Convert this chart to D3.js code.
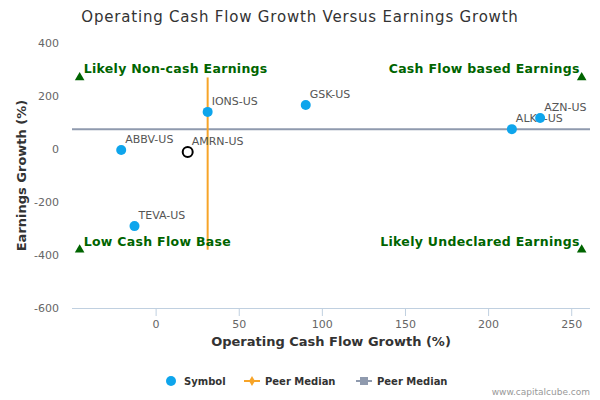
<!DOCTYPE html>
<html><head><meta charset="utf-8">
<script src="https://cdn.jsdelivr.net/npm/d3@7"></script>
<style>body{margin:0;background:#fff;font-family:"DejaVu Sans",sans-serif}</style>
</head><body><svg id="c" width="600" height="400"></svg>
<script>
const symbols = ["ABBV-US","AMRN-US","IONS-US","GSK-US","ALKS-US","AZN-US","TEVA-US"];
const cashFlowGrowth = [-21, 19, 31, 90, 214, 231, -13];
const earningsGrowth = [-4, -11, 140, 166, 75, 117, -291];
const highlighted = ["AMRN-US"];
const peerMedianX = 31, peerMedianY = 75;
const xTicks = [0,50,100,150,200,250];
const yTicks = [400,200,0,-200,-400,-600];
const quadrantLabels = ["Likely Non-cash Earnings","Cash Flow based Earnings","Low Cash Flow Base","Likely Undeclared Earnings"];
const markerX = [-46, 256], markerY = [270, -380];

const svg = d3.select("#c");
const L=72,R=590,T=43,B=308;
const x = d3.scaleLinear().domain([-50.6,261]).range([L,R]);
const y = d3.scaleLinear().domain([400,-600]).range([T,B]);

svg.append("text").attr("x",300).attr("y",22).attr("text-anchor","middle").attr("font-size",15).attr("letter-spacing",0.8).attr("fill","#333").text("Operating Cash Flow Growth Versus Earnings Growth");

svg.append("line").attr("x1",L).attr("x2",R).attr("y1",B+0.5).attr("y2",B+0.5).attr("stroke","#c0d0e0");
xTicks.forEach(t=>{
  svg.append("line").attr("x1",x(t)).attr("x2",x(t)).attr("y1",B).attr("y2",B+8).attr("stroke","#c0d0e0");
  svg.append("text").attr("x",x(t)).attr("y",B+20).attr("text-anchor","middle").attr("font-size",11).attr("fill","#666").text(t);
});
yTicks.forEach(t=>{
  svg.append("text").attr("x",L-13).attr("y",y(t)+4).attr("text-anchor","end").attr("font-size",11).attr("fill","#666").text(t);
});
svg.append("text").attr("x",(L+R)/2).attr("y",346).attr("text-anchor","middle").attr("font-size",13).attr("font-weight","bold").attr("fill","#333").text("Operating Cash Flow Growth (%)");
svg.append("text").attr("transform",`translate(26,${(T+B)/2}) rotate(-90)`).attr("text-anchor","middle").attr("font-size",13).attr("font-weight","bold").attr("fill","#333").text("Earnings Growth (%)");

svg.append("line").attr("x1",L).attr("x2",R).attr("y1",y(peerMedianY)).attr("y2",y(peerMedianY)).attr("stroke","#8f9aae").attr("stroke-width",2);
svg.append("line").attr("x1",x(peerMedianX)).attr("x2",x(peerMedianX)).attr("y1",y(markerY[0])).attr("y2",y(markerY[1])).attr("stroke","#f7a428").attr("stroke-width",2);

const tri = d3.symbol().type(d3.symbolTriangle).size(40);
const corners=[[0,0],[1,0],[0,1],[1,1]];
corners.forEach(([i,j],k)=>{
  svg.append("path").attr("d",tri).attr("transform",`translate(${x(markerX[i])},${y(markerY[j])})`).attr("fill","#006400");
  const lx = i===0 ? x(markerX[0])+4 : x(markerX[1])-2;
  svg.append("text").attr("x",lx).attr("y",y(markerY[j])-4).attr("text-anchor",i===0?"start":"end")
    .attr("font-size",12.5).attr("font-weight","bold").attr("letter-spacing",0.3).attr("fill","#006400").text(quadrantLabels[k]);
});

symbols.forEach((s,i)=>{
  const h = highlighted.includes(s);
  svg.append("circle").attr("cx",x(cashFlowGrowth[i])).attr("cy",y(earningsGrowth[i])).attr("r",5)
    .attr("fill",h?"#fff":"#0ea5ec").attr("stroke",h?"#000":"none").attr("stroke-width",2);
  svg.append("text").attr("x",x(cashFlowGrowth[i])+4).attr("y",y(earningsGrowth[i])-7).attr("font-size",11).attr("fill","#555").text(s);
});

const ly=381;
svg.append("circle").attr("cx",171).attr("cy",ly).attr("r",5).attr("fill","#0ea5ec");
svg.append("text").attr("x",184).attr("y",ly+4).attr("font-size",10).attr("font-weight","bold").attr("fill","#333").text("Symbol");
svg.append("line").attr("x1",244).attr("x2",260).attr("y1",ly).attr("y2",ly).attr("stroke","#f7a428").attr("stroke-width",2);
svg.append("path").attr("d",d3.symbol().type(d3.symbolDiamond).size(30)).attr("transform",`translate(252,${ly})`).attr("fill","#f7a428");
svg.append("text").attr("x",265).attr("y",ly+4).attr("font-size",10).attr("font-weight","bold").attr("fill","#333").text("Peer Median");
svg.append("line").attr("x1",356).attr("x2",372).attr("y1",ly).attr("y2",ly).attr("stroke","#8f9aae").attr("stroke-width",2);
svg.append("rect").attr("x",360).attr("y",ly-4).attr("width",8).attr("height",8).attr("fill","#8f9aae");
svg.append("text").attr("x",377).attr("y",ly+4).attr("font-size",10).attr("font-weight","bold").attr("fill","#333").text("Peer Median");
svg.append("text").attr("x",590).attr("y",395).attr("text-anchor","end").attr("font-size",9).attr("fill","#999").text("www.capitalcube.com");
</script></body></html>
